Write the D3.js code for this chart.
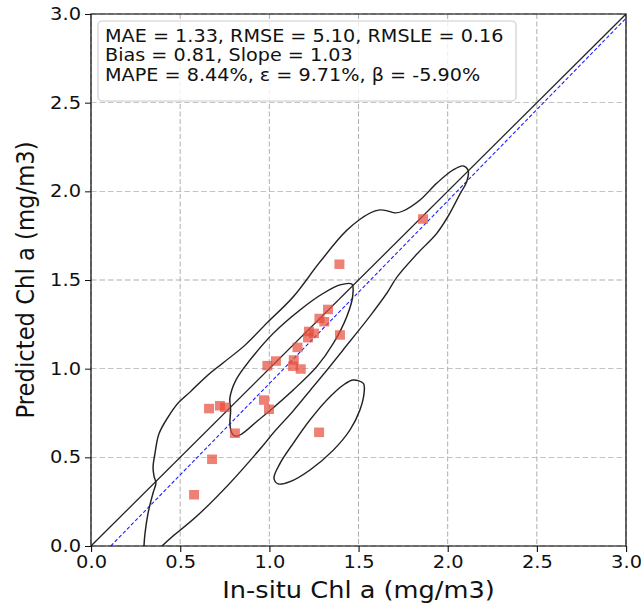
<!DOCTYPE html>
<html><head><meta charset="utf-8">
<script src="https://cdn.jsdelivr.net/npm/d3@7"></script>
<style>body{margin:0;background:#fff}svg{display:block}</style>
</head><body>
<svg id="chart" width="641" height="609"></svg>
<script>
// ---- data ----
const insitu = [1.862,1.393,1.329,1.281,1.308,1.222,1.250,1.217,1.396,1.158,1.137,1.133,1.176,0.989,1.037,0.970,0.998,0.662,0.723,0.751,0.807,1.279,0.679,0.578];
const predicted = [1.844,1.589,1.334,1.283,1.265,1.210,1.199,1.175,1.190,1.120,1.049,1.014,0.998,1.017,1.043,0.823,0.771,0.775,0.791,0.782,0.636,0.641,0.489,0.289];
const tickValues = [0,0.5,1.0,1.5,2.0,2.5,3.0];
const fitSlope = 1.03, fitIntercept = -0.114;
const statsLines = ["MAE = 1.33, RMSE = 5.10, RMSLE = 0.16","Bias = 0.81, Slope = 1.03","MAPE = 8.44%, \u03b5 = 9.71%, \u03b2 = -5.90%"];
const xLabel = "In-situ Chl a (mg/m3)", yLabel = "Predicted Chl a (mg/m3)";
// KDE contour outlines (data units)
const contourOuter = [[0.297,0],[0.303,0.073],[0.320,0.186],[0.348,0.299],[0.364,0.355],[0.353,0.395],[0.348,0.445],[0.359,0.524],[0.381,0.632],[0.432,0.727],[0.488,0.806],[0.555,0.868],[0.650,0.959],[0.740,1.032],[0.864,1.133],[0.987,1.258],[1.133,1.404],[1.284,1.602],[1.436,1.782],[1.565,1.878],[1.620,1.895],[1.665,1.889],[1.705,1.878],[1.750,1.889],[1.845,1.951],[1.940,2.047],[2.030,2.120],[2.086,2.143],[2.114,2.120],[2.108,2.058],[2.069,1.985],[2.013,1.878],[1.940,1.765],[1.828,1.647],[1.716,1.517],[1.660,1.427],[1.565,1.297],[1.413,1.105],[1.323,0.992],[1.245,0.897],[1.133,0.761],[1.032,0.649],[0.948,0.547],[0.779,0.355],[0.594,0.169],[0.460,0.056],[0.398,0]];
const contourInner = [[1.462,1.477],[1.396,1.472],[1.303,1.425],[1.172,1.331],[1.022,1.199],[0.892,1.049],[0.813,0.936],[0.779,0.835],[0.783,0.767],[0.779,0.692],[0.788,0.640],[0.807,0.620],[0.836,0.626],[0.936,0.708],[0.985,0.748],[1.134,0.880],[1.266,1.011],[1.359,1.143],[1.434,1.293],[1.467,1.406]];
const contourLow = [[1.527,0.917],[1.471,0.936],[1.415,0.908],[1.322,0.823],[1.228,0.711],[1.134,0.579],[1.060,0.466],[1.026,0.382],[1.050,0.350],[1.116,0.363],[1.228,0.429],[1.359,0.541],[1.452,0.654],[1.508,0.767],[1.531,0.861]];

// ---- layout ----
const sx = 1.13; // horizontal stretch of the original image
const svg = d3.select('#chart');
const g = svg.append('g').attr('transform', `scale(${sx},1)`);
const L = 91/sx, R = 626/sx, T = 14, B = 546;
const x = d3.scaleLinear().domain([0,3]).range([L,R]);
const y = d3.scaleLinear().domain([0,3]).range([B,T]);
const font = "'DejaVu Sans', sans-serif";

g.append('clipPath').attr('id','clip').append('rect').attr('x',L).attr('y',T).attr('width',R-L).attr('height',B-T);

// grid
const grid = g.append('g').attr('stroke','#b0b0b0').attr('stroke-width',0.9).attr('stroke-dasharray','5,2.5');
grid.selectAll('.gx').data(tickValues).join('line').attr('x1',d=>x(d)).attr('x2',d=>x(d)).attr('y1',T).attr('y2',B);
grid.selectAll('.gy').data(tickValues).join('line').attr('y1',d=>y(d)).attr('y2',d=>y(d)).attr('x1',L).attr('x2',R);

const plot = g.append('g').attr('clip-path','url(#clip)');
// 1:1 line
plot.append('path').attr('d', d3.line()([[x(0),y(0)],[x(3),y(3)]])).attr('stroke','#222').attr('stroke-width',1.2).attr('fill','none');
// fit line
const x0 = -fitIntercept/fitSlope;
plot.append('path').attr('d', d3.line()([[x(x0),y(0)],[x(3),y(fitSlope*3+fitIntercept)]])).attr('stroke','#1a1aff').attr('stroke-width',1).attr('stroke-dasharray','3.5,2').attr('fill','none');
// contours
const lineOpen = d3.line().x(d=>x(d[0])).y(d=>y(d[1])).curve(d3.curveCatmullRom);
const lineClosed = d3.line().x(d=>x(d[0])).y(d=>y(d[1])).curve(d3.curveCatmullRomClosed);
plot.append('path').attr('d', lineOpen(contourOuter)).attr('stroke','#222').attr('stroke-width',1.3).attr('fill','none');
[contourInner, contourLow].forEach(c=>plot.append('path').attr('d', lineClosed(c)).attr('stroke','#222').attr('stroke-width',1.3).attr('fill','none'));
// points
const ms = 9.5;
plot.selectAll('.pt').data(insitu.map((v,i)=>[v,predicted[i]])).join('rect')
  .attr('x',d=>x(d[0])-ms/sx/2*1.05).attr('y',d=>y(d[1])-ms/2).attr('width',ms/sx*1.05).attr('height',ms)
  .attr('fill','#e74c3c').attr('fill-opacity',0.7);

// axes
const ax = g.append('g').attr('transform',`translate(0,${B})`).call(d3.axisBottom(x).tickValues(tickValues).tickFormat(d3.format('.1f')).tickSize(6).tickPadding(4));
const ay = g.append('g').attr('transform',`translate(${L},0)`).call(d3.axisLeft(y).tickValues(tickValues).tickFormat(d3.format('.1f')).tickSize(6/sx).tickPadding(4/sx));
[ax,ay].forEach(a=>{a.select('.domain').remove();a.selectAll('text').attr('font-family',font).attr('font-size',17.2).attr('fill','#111');a.selectAll('line').attr('stroke','#111');});
g.append('rect').attr('x',L).attr('y',T).attr('width',R-L).attr('height',B-T).attr('fill','none').attr('stroke','#111').attr('stroke-width',1.1);

// labels
g.append('text').attr('x',(L+R)/2).attr('y',598).attr('text-anchor','middle').attr('font-family',font).attr('font-size',22.7).attr('fill','#111').text(xLabel);
g.append('text').attr('transform',`translate(${34/sx},${(T+B)/2}) rotate(-90)`).attr('text-anchor','middle').attr('font-family',font).attr('font-size',22.7).attr('fill','#111').text(yLabel);

// stats box
g.append('rect').attr('x',98/sx).attr('y',21).attr('width',(516-98)/sx).attr('height',80).attr('rx',4).attr('fill','#fff').attr('fill-opacity',0.8).attr('stroke','#cccccc').attr('stroke-width',1);
const st = g.append('text').attr('font-family',font).attr('font-size',17).attr('fill','#111');
statsLines.forEach((t,i)=>st.append('tspan').attr('x',105/sx).attr('y',41.7+i*19.5).text(t));
</script>
</body></html>
